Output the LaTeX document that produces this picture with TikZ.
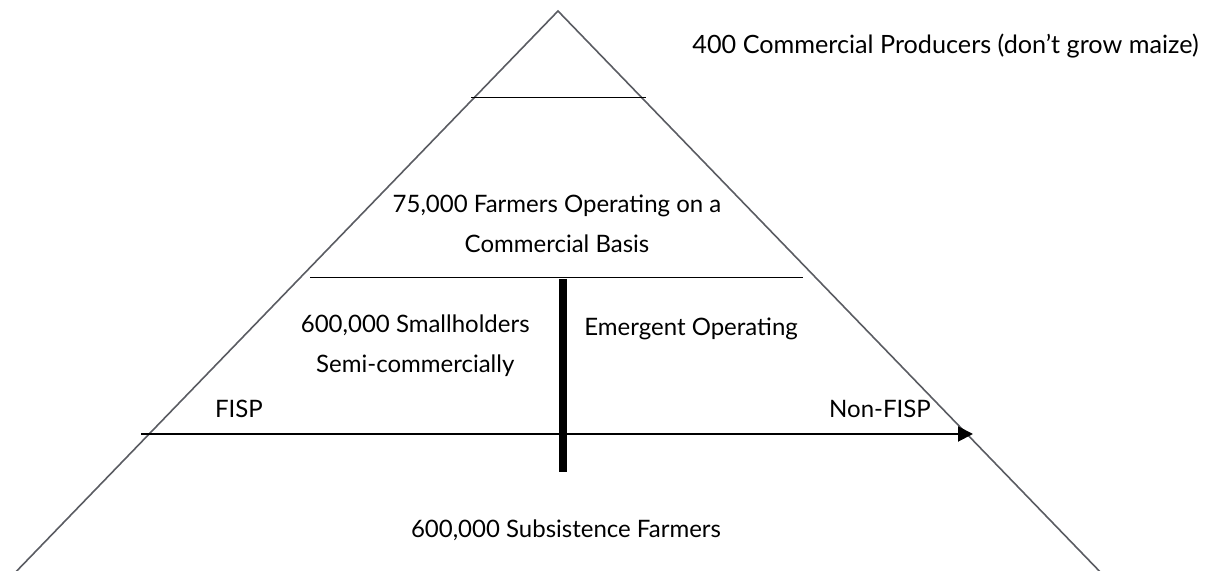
\documentclass[tikz,border=0pt]{standalone}
\usepackage{fontspec}
\setmainfont{Lato}
\usetikzlibrary{arrows.meta}

\definecolor{edgegray}{RGB}{90,92,98}

\begin{document}
\begin{tikzpicture}[x=0.5pt, y=-0.5pt, every node/.style={font=\fontsize{12}{20}\selectfont, inner sep=0pt, align=center}]
    \useasboundingbox (0,0) rectangle (1207,571);
    \clip (0,0) rectangle (1207,571);

    % pyramid outline
    \coordinate (apex) at (558,11);
    \coordinate (baseleft) at (-20,609);
    \coordinate (baseright) at (1136,609);
    \draw[edgegray, line width=0.8pt] (baseleft) -- (apex) -- (baseright);

    % tier lines and the split
    \draw[line width=0.5pt] (471,98) -- (646,98);
    \draw[line width=0.5pt] (310,278) -- (803,278);
    \draw[line width=3.75pt] (563,279) -- (563,472);

    % FISP axis
    \coordinate (axisstart) at (141,434);
    \coordinate (axisend) at (973,434);
    \draw[-{Triangle[length=7.5pt, width=7.5pt]}, line width=1pt] (axisstart) -- (axisend);

    \node (commercial) at (1199,46) [anchor=east, font=\fontsize{12.6}{20}\selectfont] {400 Commercial Producers (don’t grow maize)};
    \node (farmers) at (557,224) {75,000 Farmers Operating on a\\Commercial Basis};
    \node (smallholders) at (530,346) [anchor=east] {600,000 Smallholders\\Semi-commercially};
    \node (emergent) at (584,329) [anchor=west] {Emergent Operating};
    \node (fisp) at (239,409) {FISP};
    \node (nonfisp) at (880,409) {Non-FISP};
    \node (subsistence) at (566,530) {600,000 Subsistence Farmers};
\end{tikzpicture}
\end{document}
